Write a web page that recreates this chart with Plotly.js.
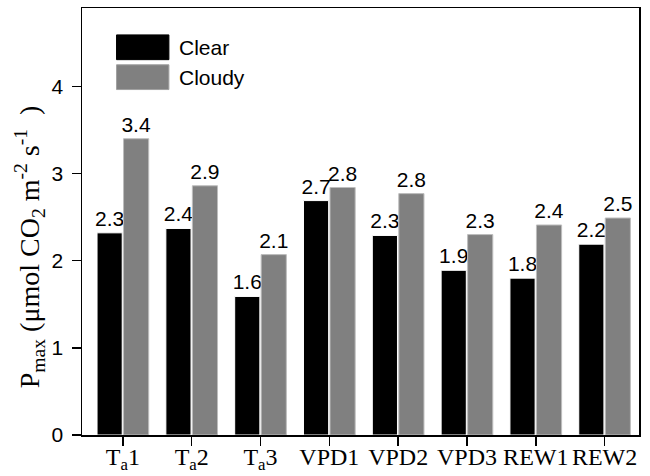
<!DOCTYPE html>
<html><head><meta charset="utf-8">
<script src="https://cdn.plot.ly/plotly-3.0.1.min.js"></script>
<style>body{margin:0;padding:0;background:#fff}#chart{width:650px;height:476px}</style>
</head><body><div id="chart"></div>
<script>
const categories = ["T<sub>a</sub>1","T<sub>a</sub>2","T<sub>a</sub>3","VPD1","VPD2","VPD3","REW1","REW2"];
const seriesNames = ["Clear","Cloudy"];
const clearValues = [2.32,2.37,1.59,2.69,2.29,1.89,1.80,2.19];
const cloudyValues = [3.40,2.86,2.07,2.84,2.77,2.30,2.41,2.49];
const seriesColors = ["#000000","#808080"];
const yTicks = [0,1,2,3,4];
const yTitle = "P<sub>max</sub>\u00a0(μmol CO<sub>2</sub>\u00a0m<sup>-2</sup>\u00a0s<sup>-1</sup>\u00a0\u00a0)";

const serif = "Liberation Serif, Times New Roman, serif";
const sans = "Liberation Sans, Arial, sans-serif";
const textFont = {family:sans, size:21, color:"#000"};
function mk(name, vals, col){
  return {type:"bar", name:name, x:categories, y:vals,
    marker:{color:col, line:{color: col==="#000000" ? "#ffffff" : "#bdbdbd", width:1}},
    texttemplate:"%{y:.1f}", textposition:"outside", textfont:textFont, cliponaxis:false,
    constraintext:"none", showlegend:false, hoverinfo:"skip"};
}
const data = [mk(seriesNames[0], clearValues, seriesColors[0]), mk(seriesNames[1], cloudyValues, seriesColors[1])];

const shapes = [], annotations = [];
seriesNames.forEach((n,i)=>{
  const top = 0.937 - i*0.07;
  shapes.push({type:"rect", xref:"paper", yref:"paper", x0:0.062, x1:0.156, y0:top-0.058, y1:top,
    fillcolor:seriesColors[i], line:{color: i===0?"#000":"#a0a0a0", width:1}});
  annotations.push({xref:"paper", yref:"paper", x:0.17, y:top-0.029, text:n, showarrow:false,
    xanchor:"left", yanchor:"middle", font:{family:sans, size:21, color:"#000"}});
});
annotations.push({xref:"paper", yref:"paper", x:-0.095, y:0.44, text:yTitle, textangle:-90,
  showarrow:false, xanchor:"center", yanchor:"middle", font:{family:serif, size:28, color:"#000"}});

const layout = {
  width:650, height:476,
  margin:{l:82, r:11, t:8, b:41},
  paper_bgcolor:"#fff", plot_bgcolor:"#fff",
  barmode:"group", bargap:0.23, bargroupgap:0.05,
  showlegend:false,
  xaxis:{type:"category", range:[-0.594,7.5], showline:true, linecolor:"#000", linewidth:1.5, mirror:true,
    ticks:"outside", ticklen:9, tickwidth:1.5, tickcolor:"#000", ticklabelstandoff:-9, tickangle:0,
    tickfont:{family:serif, size:24, color:"#000"},
    showgrid:false, zeroline:false},
  yaxis:{range:[0,4.9], tickvals:yTicks, showline:true, linecolor:"#000", linewidth:1.5, mirror:true,
    ticks:"outside", ticklen:9, tickwidth:1.5, tickcolor:"#000", ticklabelstandoff:4,
    tickfont:{family:sans, size:21, color:"#000"},
    showgrid:false, zeroline:false},
  shapes:shapes, annotations:annotations
};
Plotly.newPlot("chart", data, layout, {displayModeBar:false, staticPlot:true});
</script></body></html>
